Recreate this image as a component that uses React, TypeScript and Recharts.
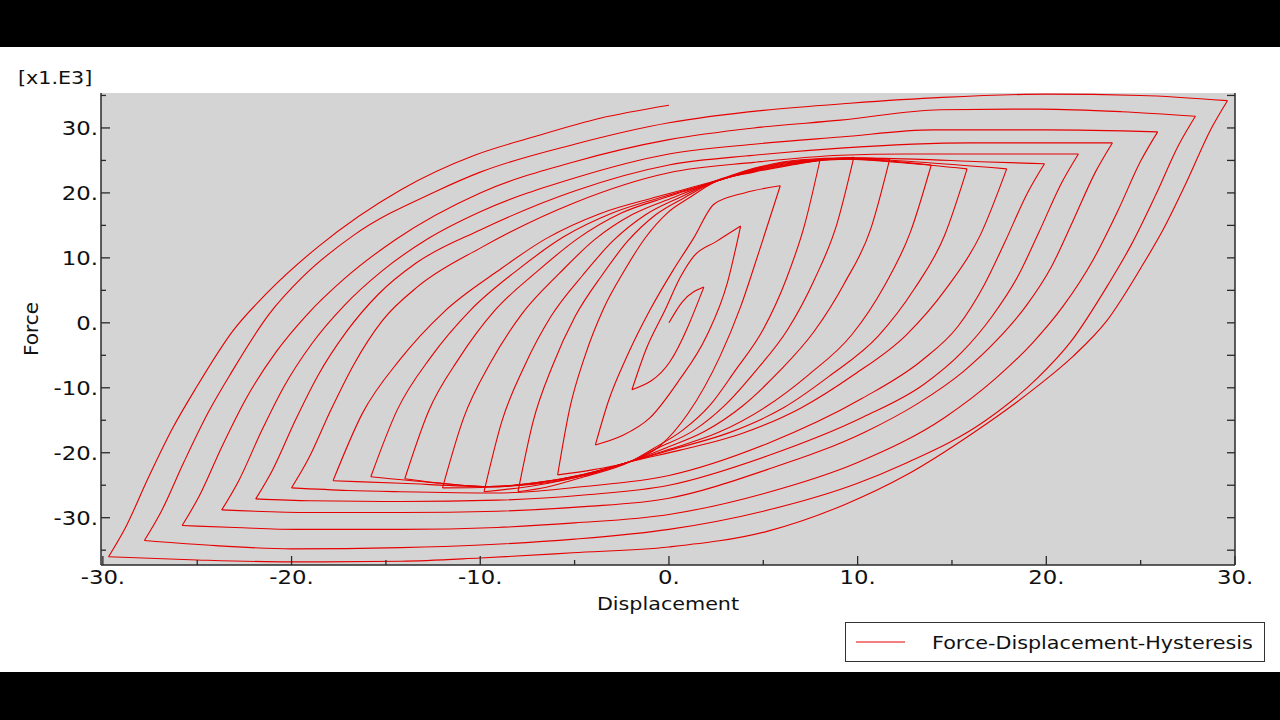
import React from "react";
import { LineChart, Line, XAxis, YAxis, ReferenceArea, Legend, Label } from "recharts";

// displacement / force (x1.E3) pairs, one array per branch, in load order
const start0 = [[0, 0], [0.7, 3.2], [1.85, 5.5]];
const down0 = [[1.85, 5.5], [0.05, -6], [-1.96, -10.3]];
const up15 = [[-1.96, -10.3], [-1.2, -4], [-0.2, 2], [0.6, 7], [1.3, 10.2], [2.5, 12.5], [3.8, 14.9]];
const down15 = [[3.8, 14.9], [3.1, 6.2], [2, -2], [0.5, -9], [-1, -14.6], [-2.5, -17.4], [-3.9, -18.8]];
const up14 = [[-3.9, -18.8], [-3.2, -12], [-2.2, -5], [-1, 2], [0.2, 8], [1.3, 13], [2.4, 18.3], [4, 20], [5.9, 21.1]];
const down14 = [[5.9, 21.1], [4.8, 11.2], [3.8, 2.5], [2.7, -5.2], [1, -14], [-0.5, -19], [-2.1, -21.4], [-4, -22.6], [-5.9, -23.4]];
const up13 = [[-5.9, -23.4], [-5.26, -13.2], [-4.44, -5], [-3.48, 2.1], [-2.33, 8.2], [-1.25, 13.1], [-0.09, 16.9], [1.16, 19.4], [2.3, 21.5], [4.5, 23.2], [6.5, 24.3], [8, 25]];
const down13 = [[8, 25], [7.2, 15.2], [6.2, 6.6], [5, -1], [3.5, -7.4], [2.2, -12.6], [0.7, -16.6], [-0.8, -19.3], [-2.0, -21.3], [-4.5, -23.7], [-6.5, -25.3], [-8, -26]];
const up12 = [[-8, -26], [-7.2, -15.2], [-6.17, -6.6], [-4.97, 1], [-3.53, 7.4], [-2.18, 12.6], [-0.72, 16.6], [0.84, 19.3], [2.35, 21.6], [4.5, 23.3], [7, 24.6], [9.8, 25.5]];
const down12 = [[9.8, 25.5], [8.9, 15.2], [7.7, 6.6], [6.3, -1], [4.6, -7.4], [3, -12.6], [1.3, -16.6], [-0.6, -19.3], [-2.05, -21.35], [-4.5, -23.5], [-7, -25], [-9.8, -26]];
const up11 = [[-9.8, -26], [-8.86, -15.2], [-7.65, -6.6], [-6.25, 1], [-4.55, 7.4], [-2.97, 12.6], [-1.26, 16.6], [0.57, 19.3], [2.4, 21.7], [4.5, 23.4], [7, 24.7], [9.5, 25.4], [11.7, 25.2]];
const down11 = [[11.7, 25.2], [10.7, 14.5], [9.3, 6.1], [7.7, -1.3], [5.8, -7.6], [3.9, -12.8], [1.9, -16.7], [-0.2, -19.3], [-2.1, -21.4], [-4.5, -23.3], [-7, -24.6], [-9.5, -25.3], [-12, -25.4]];
const up10 = [[-12, -25.4], [-10.89, -14.7], [-9.47, -6.2], [-7.81, 1.3], [-5.81, 7.6], [-3.94, 12.8], [-1.92, 16.7], [0.24, 19.3], [2.4, 21.7], [4.5, 23.5], [7, 24.8], [9.5, 25.2], [13.9, 24.3]];
const down10 = [[13.9, 24.3], [12.8, 14], [11.4, 5.6], [9.7, -1.8], [7.4, -8], [5.1, -13], [2.6, -16.9], [0.1, -19.4], [-2.1, -21.4], [-4.5, -23.3], [-7, -24.6], [-9.5, -25.2], [-14, -24]];
const up9 = [[-14, -24], [-12.74, -13.6], [-11.11, -5.4], [-9.23, 1.9], [-6.95, 8], [-4.82, 13], [-2.52, 16.9], [-0.06, 19.4], [2.45, 21.75], [4.5, 23.6], [7, 24.9], [9.5, 25.2], [12.5, 24.6], [15.8, 23.7]];
const down9 = [[15.8, 23.7], [14.6, 13.4], [13, 5.2], [11.1, -2], [8.5, -8.2], [6, -13.2], [3.2, -16.9], [0.3, -19.4], [-2.15, -21.45], [-4.5, -23.4], [-7, -24.7], [-9.5, -25.2], [-12.5, -24.6], [-15.8, -23.7]];
const up8 = [[-15.8, -23.7], [-14.4, -13.4], [-12.6, -5.2], [-10.5, 2], [-8, 8.2], [-5.6, 13.2], [-3, 16.9], [-0.3, 19.4], [2.5, 21.8], [4.5, 23.7], [7, 25], [9.5, 25.3], [13, 24.8], [17.9, 23.7]];
const down8 = [[17.9, 23.7], [16.5, 13.5], [14.7, 5.3], [12.6, -1.8], [9.8, -8], [7, -13.1], [3.9, -17], [0.6, -19.6], [-2.2, -21.5], [-4.5, -23.5], [-7, -24.8], [-9.5, -25.2], [-14.2, -24.7], [-17.8, -24.3]];
const up7 = [[-17.8, -24.3], [-16.24, -13.9], [-14.24, -5.6], [-11.92, 1.7], [-9.11, 7.9], [-6.49, 13], [-3.66, 16.8], [-0.63, 19.4], [2.5, 21.9], [4.5, 23.8], [7, 25.1], [9.5, 25.4], [13, 25.2], [16.5, 24.8], [19.9, 24.5]];
const down7 = [[19.9, 24.5], [19, 20], [17.8, 12.4], [16.7, 5.8], [15.3, -0.6], [13.4, -5.8], [10.2, -11.7], [5.2, -18.6], [0, -23.5], [-4.5, -25.2], [-9.1, -26.2], [-14.2, -26], [-17, -25.8], [-20, -25.4]];
const up6 = [[-20, -25.4], [-19.1, -20.9], [-17.9, -13.3], [-16.7, -6.4], [-15.2, 0.3], [-13.3, 5.6], [-10, 11.5], [-5, 18.5], [0, 23.1], [4.5, 24.7], [9.1, 25.8], [12.6, 26], [17, 26], [21.7, 26]];
const down6 = [[21.7, 26], [20.8, 21.5], [19.6, 13.9], [18.5, 7.2], [17.1, 0.9], [15.5, -4.6], [13.5, -9.5], [10.3, -14.5], [5.2, -20.5], [0, -25], [-4.5, -26.5], [-9.1, -27.3], [-14.2, -27.5], [-19, -27.4], [-21.9, -27.1]];
const up5 = [[-21.9, -27.1], [-21, -22.6], [-19.8, -15], [-18.6, -8.1], [-17.1, -1.4], [-15.4, 4.4], [-13.4, 9.2], [-10, 14.3], [-5, 20.3], [0, 24.3], [4.5, 25.8], [9.1, 26.9], [16, 27.7], [23.5, 27.7]];
const down5 = [[23.5, 27.7], [22.6, 23.2], [21.4, 15.6], [20.3, 8.8], [18.9, 2.5], [17.4, -2.6], [15.6, -7.5], [13.2, -12.4], [10.4, -16.8], [5.2, -22.6], [0, -27], [-4.5, -28.3], [-9.1, -29], [-14.2, -29.2], [-19, -29.2], [-23.7, -28.8]];
const up4 = [[-23.7, -28.8], [-22.8, -24.3], [-21.6, -16.7], [-20.4, -9.8], [-18.9, -3.1], [-17.2, 2.7], [-15.2, 8], [-12.8, 12.9], [-10, 17.1], [-5, 22.3], [0, 26], [4.5, 27.5], [9.1, 28.6], [14, 29.7], [20, 29.7], [25.9, 29.4]];
const down4 = [[25.9, 29.4], [25, 24.9], [23.8, 17.3], [22.5, 9.8], [20.9, 2.6], [19.3, -3], [17.3, -8.6], [14.6, -14.6], [10, -21.5], [5, -26.3], [0, -29.5], [-5, -30.8], [-9.1, -31.5], [-14.2, -31.8], [-19.7, -31.8], [-23, -31.5], [-25.8, -31.2]];
const up3 = [[-25.8, -31.2], [-24.9, -26.7], [-23.7, -19.1], [-22.4, -11.6], [-20.8, -4.4], [-19.2, 1.2], [-17.2, 6.8], [-14.5, 12.8], [-10, 20], [-5, 24.8], [0, 28.2], [4.5, 30], [9.1, 31.2], [14.4, 32.8], [19.7, 32.9], [24, 32.5], [27.9, 31.8]];
const down3 = [[27.9, 31.8], [27, 27.3], [25.8, 19.7], [24.5, 12], [23.3, 6], [21.3, -2.9], [19.5, -8.6], [16.8, -15], [12.4, -21.8], [10, -24.7], [5, -29], [0, -31.8], [-5, -33.3], [-10, -34.2], [-14.2, -34.6], [-20, -34.8], [-24, -34.3], [-27.8, -33.5]];
const up2 = [[-27.8, -33.5], [-26.9, -29], [-25.7, -21.4], [-24.4, -13.7], [-23.2, -7.7], [-21.2, 1.3], [-19.4, 7.1], [-16.7, 13.5], [-12.3, 20.3], [-10, 23.2], [-5, 27.5], [0, 30.8], [5, 32.7], [9.6, 33.8], [14.5, 34.7], [20, 35.2], [25, 35], [29.6, 34.2]];
const down2 = [[29.6, 34.2], [28.7, 29.7], [27.5, 22.1], [26.2, 14.4], [25, 8.4], [23.2, 0.3], [21.4, -5.2], [19.6, -9.6], [16.1, -17], [12.6, -23.4], [9.3, -28], [5.2, -32.1], [0, -34.5], [-5.1, -35.4], [-10, -36.2], [-14.2, -36.7], [-20, -36.8], [-25, -36.5], [-29.7, -36]];
const up1 = [[-29.7, -36], [-28.8, -31.5], [-27.6, -23.9], [-26.3, -16.2], [-25.1, -10.2], [-23.1, -1.2], [-21.3, 4.6], [-18.6, 11.7], [-14.2, 20.5], [-10.3, 25.8], [-7.2, 28.6], [-3.65, 31.5], [0, 33.5]];

const branches = [
  start0, down0, up15, down15, up14, down14, up13, down13, up12, down12,
  up11, down11, up10, down10, up9, down9, up8, down8, up7, down7,
  up6, down6, up5, down5, up4, down4, up3, down3, up2, down2, up1,
];

const X_TICKS = [-30, -25, -20, -15, -10, -5, 0, 5, 10, 15, 20, 25, 30];
const Y_TICKS = [-35, -30, -25, -20, -15, -10, -5, 0, 5, 10, 15, 20, 25, 30, 35];

// each branch is monotone in displacement, so draw it left to right with a smooth curve
const segments = branches.map((b) =>
  [...b].sort((p, q) => p[0] - q[0]).map(([x, f]) => ({ x, f }))
);

const FONT = "'DejaVu Sans', Verdana, sans-serif";
const AXIS = "#2a2a2a";
const RED = "#e60000";

const label = (v: number) => `${v}.`;
const isMajor = (v: number) => v % 10 === 0;

function BottomTick({ x, y, payload }: any) {
  const major = isMajor(payload.value);
  return (
    <g>
      <line x1={x} x2={x} y1={y} y2={y - (major ? 9 : 5)} stroke={AXIS} strokeWidth={1.3} />
      {major && (
        <g transform={`translate(${x},${y + 19})`}>
          <text transform="scale(1.2,1)" textAnchor="middle" fontSize={19} fontFamily={FONT} fill="#111">
            {label(payload.value)}
          </text>
        </g>
      )}
    </g>
  );
}

function TopTick({ x, y, payload }: any) {
  const major = isMajor(payload.value);
  return <line x1={x} x2={x} y1={y} y2={y + (major ? 10 : 6)} stroke={AXIS} strokeWidth={1.3} />;
}

function LeftTick({ x, y, payload }: any) {
  const major = isMajor(payload.value);
  return (
    <g>
      <line x1={x} x2={x + (major ? 9 : 5)} y1={y} y2={y} stroke={AXIS} strokeWidth={1.3} />
      {major && (
        <g transform={`translate(${x - 3},${y + 7})`}>
          <text transform="scale(1.2,1)" textAnchor="end" fontSize={19} fontFamily={FONT} fill="#111">
            {label(payload.value)}
          </text>
        </g>
      )}
    </g>
  );
}

function RightTick({ x, y }: any) {
  return <line x1={x} x2={x - 8} y1={y} y2={y} stroke={AXIS} strokeWidth={1.3} />;
}

function XTitle({ viewBox }: any) {
  const { x, y, width } = viewBox;
  return (
    <g transform={`translate(${x + width / 2},${y + 45})`}>
      <text transform="scale(1.15,1)" textAnchor="middle" fontSize={18} fontFamily={FONT} fill="#111">
        Displacement
      </text>
    </g>
  );
}

function YTitle({ viewBox }: any) {
  const { x, y, height } = viewBox;
  const cx = x - 10;
  const cy = y + height / 2;
  return (
    <g>
      <g transform={`translate(18,${y - 9})`}>
        <text transform="scale(1.15,1)" fontSize={18} fontFamily={FONT} fill="#111">
          [x1.E3]
        </text>
      </g>
      <text
        x={cx}
        y={cy}
        transform={`rotate(-90, ${cx}, ${cy})`}
        textAnchor="middle"
        dominantBaseline="central"
        fontSize={20}
        fontFamily={FONT}
        fill="#111"
      >
        Force
      </text>
    </g>
  );
}

function LegendBox() {
  return (
    <div
      style={{
        boxSizing: "border-box",
        width: 420,
        height: 40,
        border: "1.5px solid #333",
        background: "#fff",
        display: "flex",
        alignItems: "center",
        fontFamily: FONT,
        fontSize: 18,
        color: "#111",
      }}
    >
      <svg width={86} height={20} style={{ flex: "none" }}>
        <line x1={10} x2={59} y1={10} y2={10} stroke={RED} strokeWidth={1.2} />
      </svg>
      <span style={{ display: "inline-block", transform: "scaleX(1.15)", transformOrigin: "left center" }}>
        Force-Displacement-Hysteresis
      </span>
    </div>
  );
}

export default function App() {
  return (
    <div style={{ position: "absolute", left: 0, top: 0, width: 1280, height: 720, background: "#000" }}>
      <div style={{ position: "absolute", left: 0, top: 47, width: 1280, height: 625, background: "#fff" }}>
        <LineChart width={1280} height={625} margin={{ top: 46, right: 44, bottom: 77, left: 41 }}>
          <ReferenceArea x1={-30.1} x2={30} y1={-37.28} y2={35.38} fill="#d4d4d4" fillOpacity={1} stroke="none" />
          <XAxis
            dataKey="x"
            type="number"
            domain={[-30.1, 30]}
            allowDataOverflow
            ticks={X_TICKS}
            interval={0}
            height={30}
            tickSize={0}
            tickMargin={0}
            tickLine={false}
            tick={<BottomTick />}
            axisLine={{ stroke: AXIS, strokeWidth: 1.5 }}
          >
            <Label content={<XTitle />} />
          </XAxis>
          <XAxis
            xAxisId="top"
            orientation="top"
            dataKey="x"
            type="number"
            domain={[-30.1, 30]}
            allowDataOverflow
            ticks={X_TICKS}
            interval={0}
            height={0}
            tickSize={0}
            tickMargin={0}
            tickLine={false}
            tick={<TopTick />}
            axisLine={{ stroke: AXIS, strokeWidth: 1.5 }}
          />
          <YAxis
            dataKey="f"
            type="number"
            domain={[-37.28, 35.38]}
            allowDataOverflow
            ticks={Y_TICKS}
            interval={0}
            width={60}
            tickSize={0}
            tickMargin={0}
            tickLine={false}
            tick={<LeftTick />}
            axisLine={{ stroke: AXIS, strokeWidth: 1.5 }}
          >
            <Label content={<YTitle />} />
          </YAxis>
          <YAxis
            yAxisId="right"
            orientation="right"
            dataKey="f"
            type="number"
            domain={[-37.28, 35.38]}
            allowDataOverflow
            ticks={Y_TICKS}
            interval={0}
            width={1}
            tickSize={0}
            tickMargin={0}
            tickLine={false}
            tick={<RightTick />}
            axisLine={{ stroke: AXIS, strokeWidth: 1.5 }}
          />
          {segments.map((seg, i) => (
            <Line
              key={i}
              data={seg}
              type="monotone"
              dataKey="f"
              stroke={RED}
              strokeWidth={1.1}
              dot={false}
              activeDot={false}
              isAnimationActive={false}
              legendType="none"
              name={`branch-${i}`}
            />
          ))}
          <Legend
            layout="vertical"
            align="center"
            verticalAlign="middle"
            content={<LegendBox />}
            wrapperStyle={{ left: 845, top: 575, width: 420, height: 40 }}
          />
        </LineChart>
      </div>
    </div>
  );
}
